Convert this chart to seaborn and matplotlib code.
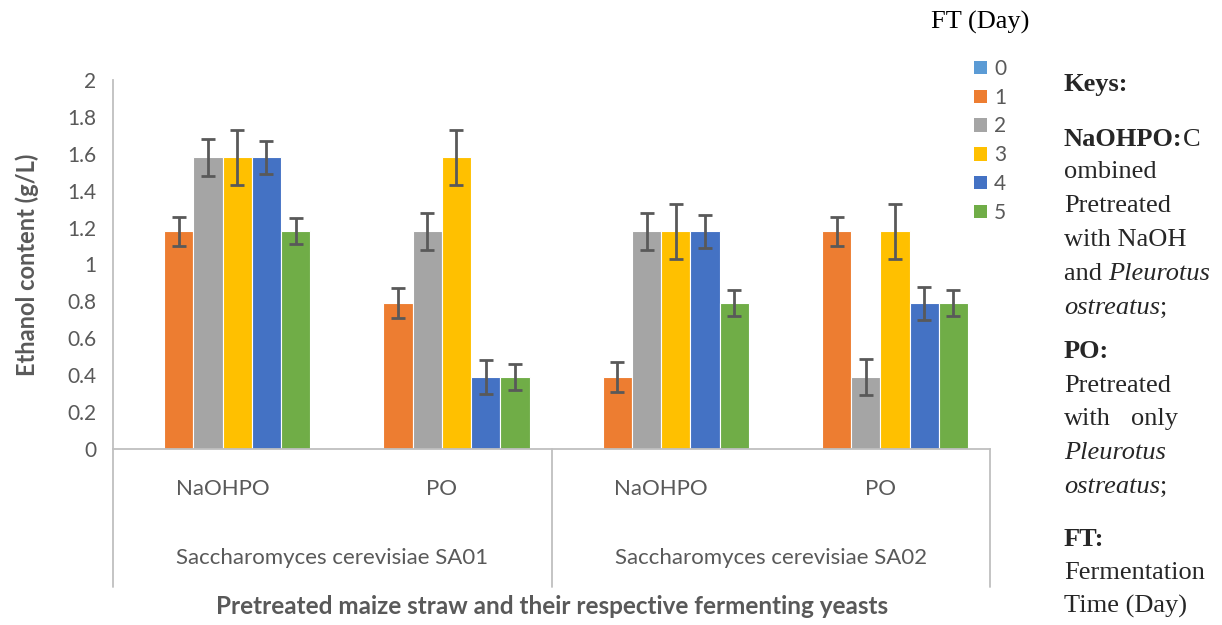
import numpy as np
import pandas as pd
import matplotlib
matplotlib.use("Agg")
import matplotlib.pyplot as plt
import matplotlib.transforms as mtransforms
from matplotlib.patches import Patch
import seaborn as sns

# data
yeasts = ["Saccharomyces cerevisiae SA01", "Saccharomyces cerevisiae SA02"]
pretreatments = ["NaOHPO", "PO", "NaOHPO", "PO"]
conditions = ["SA01 NaOHPO", "SA01 PO", "SA02 NaOHPO", "SA02 PO"]
days = ["0", "1", "2", "3", "4", "5"]
day0 = [0.0, 0.0, 0.0, 0.0]
day1 = [1.18, 0.79, 0.39, 1.18]
day2 = [1.58, 1.18, 1.18, 0.39]
day3 = [1.58, 1.58, 1.18, 1.18]
day4 = [1.58, 0.39, 1.18, 0.79]
day5 = [1.18, 0.39, 0.79, 0.79]
day_err = [0.0, 0.08, 0.10, 0.15, 0.09, 0.07]
colors = ["#5B9BD5", "#ED7D31", "#A5A5A5", "#FFC000", "#4472C4", "#70AD47"]

rows = []
for d, vals in zip(days, [day0, day1, day2, day3, day4, day5]):
    for c, v in zip(conditions, vals):
        rows.append({"cond": c, "day": d, "ethanol": v})
df = pd.DataFrame(rows)

sns.set_style("white")
plt.rcParams["font.family"] = ["Lato", "DejaVu Sans"]
grey_txt = "#595959"
axis_col = "#BFBFBF"

W, H = 1222, 625
fig = plt.figure(figsize=(W / 100, H / 100), dpi=100)
ax = fig.add_axes([113 / W, 1 - 449 / H, (990 - 113) / W, (449 - 80) / H])

sns.barplot(data=df, x="cond", y="ethanol", hue="day", order=conditions,
            hue_order=days, palette=colors, saturation=1, width=0.8,
            errorbar=None, edgecolor="white", linewidth=0.8, legend=False,
            ax=ax)

# error bars on top of the bars seaborn drew
bar_conts = list(ax.containers)
for i, cont in enumerate(bar_conts):
    if day_err[i] == 0:
        continue
    xs = [p.get_x() + p.get_width() / 2 for p in cont.patches]
    ys = [p.get_height() for p in cont.patches]
    ax.errorbar(xs, ys, yerr=day_err[i], fmt="none", ecolor=grey_txt,
                elinewidth=2, capsize=5, capthick=2, zorder=5)

ax.set_ylim(0, 2)
ax.set_xlim(-0.5, 3.5)
ax.set_yticks(np.arange(0, 2.01, 0.2))
ax.set_yticklabels(["0", "0.2", "0.4", "0.6", "0.8", "1", "1.2", "1.4", "1.6", "1.8", "2"])
ax.tick_params(axis="y", length=0, labelsize=15, labelcolor=grey_txt, pad=12)
ax.set_xticks([])
ax.set_xlabel("")
ax.set_ylabel("Ethanol content (g/L)", fontsize=17, fontweight="bold",
              color=grey_txt, labelpad=20)
for s in ["top", "right"]:
    ax.spines[s].set_visible(False)
for s in ["left", "bottom"]:
    ax.spines[s].set_color(axis_col)
    ax.spines[s].set_linewidth(1.3)

# multi-level category axis
bt = mtransforms.blended_transform_factory(ax.transData, fig.transFigure)
for x in [-0.5, 1.5, 3.5]:
    ax.plot([x, x], [1 - 449 / H, 1 - 587 / H], transform=bt, color=axis_col,
            lw=1.3, clip_on=False)
for i, lab in enumerate(pretreatments):
    ax.text(i, 1 - 489 / H, lab, transform=bt, ha="center", va="center",
            fontsize=16, color=grey_txt)
for i, lab in enumerate(yeasts):
    ax.text(2 * i + 0.5, 1 - 558 / H, lab, transform=bt, ha="center",
            va="center", fontsize=16, color=grey_txt)
fig.text(552 / W, 1 - 606 / H, "Pretreated maize straw and their respective fermenting yeasts",
         ha="center", va="center", fontsize=17.5, fontweight="bold", color=grey_txt)

# legend
serif = "Liberation Serif"
fig.text(980 / W, 1 - 22 / H, "FT (Day)", ha="center", va="center",
         fontsize=19, family=serif, color="black")
handles = [Patch(facecolor=c, edgecolor="none") for c in colors]
leg = fig.legend(handles, days, loc="upper left",
                 bbox_to_anchor=(974 / W, 1 - 59 / H), frameon=False,
                 fontsize=15, handlelength=0.62, handleheight=0.62,
                 handletextpad=0.35, labelspacing=0.42, borderaxespad=0,
                 borderpad=0)
for t in leg.get_texts():
    t.set_color(grey_txt)

# keys text block
kx = 1064 / W
fs = 19


def fy(py):
    return 1 - py / H


fig.text(kx, fy(85), "Keys:", fontsize=fs, family=serif, fontweight="bold", va="center")
t = fig.text(kx, fy(140), "NaOHPO:", fontsize=fs, family=serif, fontweight="bold", va="center")
ax.annotate("C", xy=(1, 0), xycoords=t, fontsize=fs, family=serif,
            va="bottom", ha="left")
fig.text(kx, fy(172), "ombined", fontsize=fs, family=serif, va="center")
fig.text(kx, fy(206), "Pretreated", fontsize=fs, family=serif, va="center")
fig.text(kx, fy(240), "with NaOH", fontsize=fs, family=serif, va="center")
t = fig.text(kx, fy(274), "and ", fontsize=fs, family=serif, va="center")
ax.annotate("Pleurotus", xy=(1, 0), xycoords=t, fontsize=fs, family=serif,
            style="italic", va="bottom", ha="left")
t = fig.text(kx, fy(308), "ostreatus", fontsize=fs, family=serif, style="italic", va="center")
ax.annotate(";", xy=(1, 0), xycoords=t, fontsize=fs, family=serif, va="bottom", ha="left")

fig.text(kx, fy(352), "PO:", fontsize=fs, family=serif, fontweight="bold", va="center")
fig.text(kx, fy(386), "Pretreated", fontsize=fs, family=serif, va="center")
fig.text(kx, fy(419), "with", fontsize=fs, family=serif, va="center")
fig.text(1178 / W, fy(419), "only", fontsize=fs, family=serif, va="center", ha="right")
fig.text(kx, fy(453), "Pleurotus", fontsize=fs, family=serif, style="italic", va="center")
t = fig.text(kx, fy(487), "ostreatus", fontsize=fs, family=serif, style="italic", va="center")
ax.annotate(";", xy=(1, 0), xycoords=t, fontsize=fs, family=serif, va="bottom", ha="left")

fig.text(kx, fy(539), "FT:", fontsize=fs, family=serif, fontweight="bold", va="center")
fig.text(kx, fy(573), "Fermentation", fontsize=fs, family=serif, va="center")
fig.text(kx, fy(606), "Time (Day)", fontsize=fs, family=serif, va="center")

fig.savefig("out.png", dpi=100)
